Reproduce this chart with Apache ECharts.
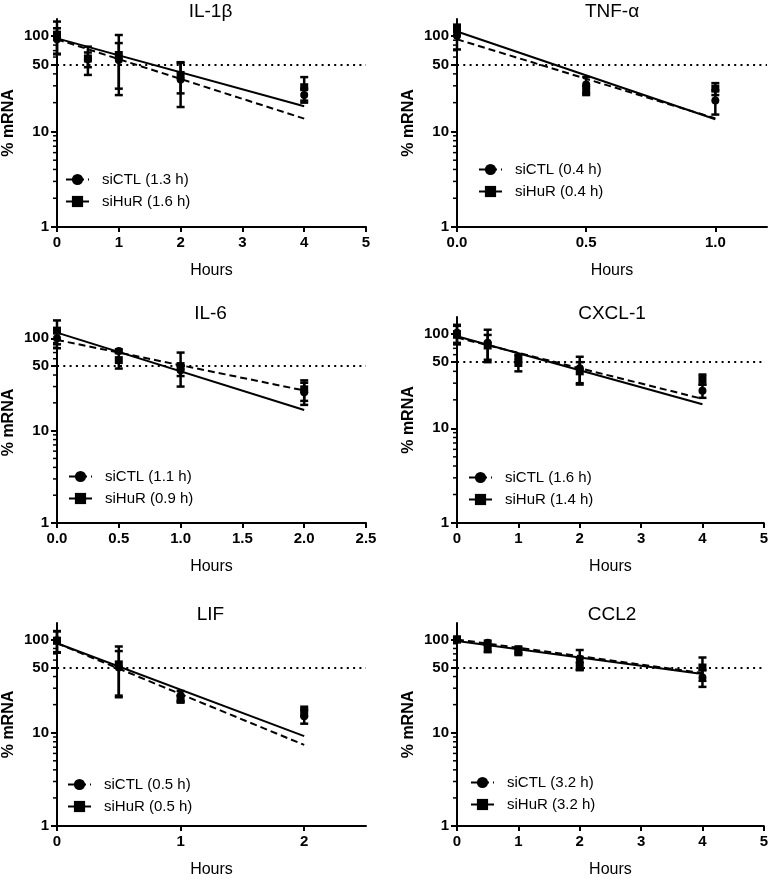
<!DOCTYPE html>
<html><head><meta charset="utf-8">
<script src="https://cdn.jsdelivr.net/npm/echarts@6/dist/echarts.min.js"></script>
<style>html,body{margin:0;padding:0;background:#fff}#c{width:771px;height:879px}</style>
</head><body><div id="c"></div>
<script>
// ---------- DATA ----------
const panelTitles = ['IL-1\u03b2', 'TNF-\u03b1', 'IL-6', 'CXCL-1', 'LIF', 'CCL2'];
const ctlLabels = ['siCTL (1.3 h)', 'siCTL (0.4 h)', 'siCTL (1.1 h)', 'siCTL (1.6 h)', 'siCTL (0.5 h)', 'siCTL (3.2 h)'];
const hurLabels = ['siHuR (1.6 h)', 'siHuR (0.4 h)', 'siHuR (0.9 h)', 'siHuR (1.4 h)', 'siHuR (0.5 h)', 'siHuR (3.2 h)'];

// IL-1beta
const il1b_hours = [0, 0.5, 1, 2, 4];
const il1b_ctl_mean = [92, 57, 56, 35, 24];
const il1b_ctl_sd = [28, 10, 28, 17, 4];
const il1b_hur_mean = [103, 58, 63, 39, 29];
const il1b_hur_sd = [38, 19, 39, 14, 8];
const il1b_fit_x = [0, 4];
const il1b_ctl_fit = [92, 13.6];
const il1b_hur_fit = [94, 18.3];

// TNF-alpha
const tnf_hours = [0, 0.5, 1];
const tnf_ctl_mean = [100, 31, 21];
const tnf_ctl_sd = [28, 6, 6];
const tnf_hur_mean = [116, 27, 28];
const tnf_hur_sd = [15, 3, 4];
const tnf_fit_x = [0, 1];
const tnf_ctl_fit = [92, 13.7];
const tnf_hur_fit = [111, 13.4];

// IL-6
const il6_hours = [0, 0.5, 1, 2];
const il6_ctl_mean = [100, 73, 45, 26];
const il6_ctl_sd = [22, 3, 6, 7];
const il6_hur_mean = [121, 58, 50, 28];
const il6_hur_sd = [35, 11, 20, 7];
const il6_fit_x = [0, 2];
const il6_ctl_fit = [96, 27.2];
const il6_hur_fit = [115, 16.7];

// CXCL-1
const cxcl1_hours = [0, 0.5, 1, 2, 4];
const cxcl1_ctl_mean = [102, 80, 55, 43, 25];
const cxcl1_ctl_sd = [22, 30, 5, 14, 4];
const cxcl1_hur_mean = [99, 75, 49, 40, 33];
const cxcl1_hur_sd = [22, 22, 9, 10, 4];
const cxcl1_fit_x = [0, 4];
const cxcl1_ctl_fit = [91, 20.5];
const cxcl1_hur_fit = [94, 18];

// LIF
const lif_hours = [0, 0.5, 1, 2];
const lif_ctl_mean = [98, 50, 25, 15];
const lif_ctl_sd = [25, 25, 3, 2.5];
const lif_hur_mean = [97, 54, 23, 17];
const lif_hur_sd = [25, 30, 2, 2];
const lif_fit_x = [0, 2];
const lif_ctl_fit = [91, 7.4];
const lif_hur_fit = [91, 9.2];

// CCL2
const ccl2_hours = [0, 0.5, 1, 2, 4];
const ccl2_ctl_mean = [100, 92, 78, 62, 39];
const ccl2_ctl_sd = [6, 5, 6, 15, 8];
const ccl2_hur_mean = [100, 80, 75, 52, 50];
const ccl2_hur_sd = [6, 7, 7, 5, 14];
const ccl2_fit_x = [0, 4];
const ccl2_ctl_fit = [100, 43.7];
const ccl2_hur_fit = [96, 42.7];

// axes
const xTickValues = [[0,1,2,3,4,5],[0,0.5,1],[0,0.5,1,1.5,2,2.5],[0,1,2,3,4,5],[0,1,2],[0,1,2,3,4,5]];
const xMaxValues = [5, 1.2, 2.5, 5, 2.5, 5];
const xDecimals = [0, 1, 1, 0, 0, 0];
const yTickLabels = [1, 10, 50, 100];
const yMinorTicks = [2,3,4,5,6,7,8,9,20,30,40,60,70,80,90];
const yMinValue = 1;
const yMaxValue = 150;
const halfLevel = 50;

// ---------- BUILD ----------
const panelData = [
  [il1b_hours, il1b_ctl_mean, il1b_ctl_sd, il1b_hur_mean, il1b_hur_sd, il1b_fit_x, il1b_ctl_fit, il1b_hur_fit],
  [tnf_hours, tnf_ctl_mean, tnf_ctl_sd, tnf_hur_mean, tnf_hur_sd, tnf_fit_x, tnf_ctl_fit, tnf_hur_fit],
  [il6_hours, il6_ctl_mean, il6_ctl_sd, il6_hur_mean, il6_hur_sd, il6_fit_x, il6_ctl_fit, il6_hur_fit],
  [cxcl1_hours, cxcl1_ctl_mean, cxcl1_ctl_sd, cxcl1_hur_mean, cxcl1_hur_sd, cxcl1_fit_x, cxcl1_ctl_fit, cxcl1_hur_fit],
  [lif_hours, lif_ctl_mean, lif_ctl_sd, lif_hur_mean, lif_hur_sd, lif_fit_x, lif_ctl_fit, lif_hur_fit],
  [ccl2_hours, ccl2_ctl_mean, ccl2_ctl_sd, ccl2_hur_mean, ccl2_hur_sd, ccl2_fit_x, ccl2_ctl_fit, ccl2_hur_fit]
];

const layout = [
  {left: 55, top: 19, width: 311, height: 208, lgLeft: 65, lgTop: 172, tTop: 2},
  {left: 457, top: 19, width: 310, height: 208, lgLeft: 478, lgTop: 162, tTop: 2},
  {left: 55, top: 322, width: 311, height: 201, lgLeft: 68, lgTop: 469, tTop: 304},
  {left: 457, top: 317, width: 310, height: 206, lgLeft: 468, lgTop: 470, tTop: 304},
  {left: 55, top: 623, width: 311, height: 206, lgLeft: 67, lgTop: 777, tTop: 605},
  {left: 457, top: 623, width: 310, height: 206, lgLeft: 470, lgTop: 775, tTop: 605}
];

const FONT = '"Liberation Sans", Arial, sans-serif';
const BLACK = '#000';

function errRender(params, api) {
  const x = api.value(0), m = api.value(1), s = api.value(2);
  const lo = Math.max(m - s, 1.0001);
  const top = api.coord([x, m + s]);
  const bot = api.coord([x, lo]);
  const hw = 4;
  const st = {stroke: BLACK, lineWidth: 2.5};
  return {type: 'group', children: [
    {type: 'line', shape: {x1: top[0], y1: top[1], x2: bot[0], y2: bot[1]}, style: st},
    {type: 'line', shape: {x1: top[0] - hw, y1: top[1], x2: top[0] + hw, y2: top[1]}, style: st},
    {type: 'line', shape: {x1: bot[0] - hw, y1: bot[1], x2: bot[0] + hw, y2: bot[1]}, style: st}
  ]};
}

// minor log ticks on the y axis, placed through the axis scale
function minorTickRender(params, api) {
  const p = api.coord([api.value(0), api.value(1)]);
  return {type: 'line', shape: {x1: p[0] - 4, y1: p[1], x2: p[0], y2: p[1]},
    style: {stroke: BLACK, lineWidth: 1.5}};
}

const grid = [], xAxis = [], yAxis = [], series = [], title = [], legend = [];

layout.forEach((L, i) => {
  const [hrs, cm, cs, hm, hs, fx, cf, hf] = panelData[i];
  grid.push({left: L.left, top: L.top, width: L.width, height: L.height});
  title.push({text: panelTitles[i], left: L.left + L.width / 2, top: L.tTop, textAlign: 'center', padding: 0,
    textStyle: {fontFamily: FONT, fontSize: 19, fontWeight: 'normal', color: BLACK}});
  const dec = xDecimals[i];
  xAxis.push({type: 'value', gridIndex: i, min: 0, max: xMaxValues[i],
    name: 'Hours', nameLocation: 'middle', nameGap: 36,
    nameTextStyle: {fontFamily: FONT, fontSize: 16, color: BLACK},
    axisLine: {lineStyle: {color: BLACK, width: 2}},
    axisTick: {customValues: xTickValues[i], length: 5, lineStyle: {color: BLACK, width: 2}},
    axisLabel: {customValues: xTickValues[i], margin: 8, fontFamily: FONT, fontSize: 15, fontWeight: 'bold', color: BLACK,
      formatter: v => Number(v).toFixed(dec)},
    splitLine: {show: false}});
  yAxis.push({type: 'log', logBase: 10, gridIndex: i, min: yMinValue, max: yMaxValue, position: 'left',
    name: '% mRNA', nameLocation: 'middle', nameGap: 40,
    nameTextStyle: {fontFamily: FONT, fontSize: 16, fontWeight: 'bold', color: BLACK},
    axisLine: {show: true, lineStyle: {color: BLACK, width: 2}},
    axisTick: {show: true, customValues: yTickLabels, length: 6, lineStyle: {color: BLACK, width: 2}},
    axisLabel: {customValues: yTickLabels, margin: 8, fontFamily: FONT, fontSize: 15, fontWeight: 'bold', color: BLACK},
    splitLine: {show: false}, minorSplitLine: {show: false}});
  const yi = i;
  // minor ticks (at the axis, x = axis minimum)
  series.push({type: 'custom', name: 'minor_' + i, xAxisIndex: i, yAxisIndex: yi, renderItem: minorTickRender,
    encode: {x: 0, y: 1}, data: yMinorTicks.map(v => [0, v]), silent: true, clip: false, z: 10});
  // fit lines (carry legend names)
  series.push({type: 'line', name: ctlLabels[i], xAxisIndex: i, yAxisIndex: yi,
    data: fx.map((x, k) => [x, cf[k]]), symbol: 'circle', symbolSize: 8, showSymbol: false,
    itemStyle: {color: BLACK}, lineStyle: {color: BLACK, width: 2, type: [7, 4]}, silent: true, z: 3});
  series.push({type: 'line', name: hurLabels[i], xAxisIndex: i, yAxisIndex: yi,
    data: fx.map((x, k) => [x, hf[k]]), symbol: 'rect', symbolSize: 8, showSymbol: false,
    itemStyle: {color: BLACK}, lineStyle: {color: BLACK, width: 2, type: 'solid'}, silent: true, z: 3,
    markLine: {silent: true, symbol: 'none', label: {show: false},
      lineStyle: {color: BLACK, width: 2, type: [2, 4.3]}, data: [{yAxis: halfLevel}]}});
  // error bars
  series.push({type: 'custom', name: 'err_ctl_' + i, xAxisIndex: i, yAxisIndex: yi, renderItem: errRender,
    encode: {x: 0, y: 1}, data: hrs.map((x, k) => [x, cm[k], cs[k]]), silent: true, z: 4});
  series.push({type: 'custom', name: 'err_hur_' + i, xAxisIndex: i, yAxisIndex: yi, renderItem: errRender,
    encode: {x: 0, y: 1}, data: hrs.map((x, k) => [x, hm[k], hs[k]]), silent: true, z: 4});
  // points
  series.push({type: 'scatter', name: 'pts_ctl_' + i, xAxisIndex: i, yAxisIndex: yi, symbol: 'circle', symbolSize: 8,
    itemStyle: {color: BLACK, opacity: 1}, data: hrs.map((x, k) => [x, cm[k]]), silent: true, z: 5});
  series.push({type: 'scatter', name: 'pts_hur_' + i, xAxisIndex: i, yAxisIndex: yi, symbol: 'rect', symbolSize: 8,
    itemStyle: {color: BLACK, opacity: 1}, data: hrs.map((x, k) => [x, hm[k]]), silent: true, z: 6});
  legend.push({data: [ctlLabels[i], hurLabels[i]], orient: 'vertical', left: L.lgLeft, top: L.lgTop,
    itemWidth: 23, itemHeight: 14, itemGap: 7, selectedMode: false, padding: 0,
    textStyle: {fontFamily: FONT, fontSize: 15, color: BLACK, padding: [0, 0, 0, 8]}});
});

const chart = echarts.init(document.getElementById('c'), null, {renderer: 'canvas'});
chart.setOption({backgroundColor: '#fff', animation: false, title, legend, grid, xAxis, yAxis, series});
</script>
</body></html>
